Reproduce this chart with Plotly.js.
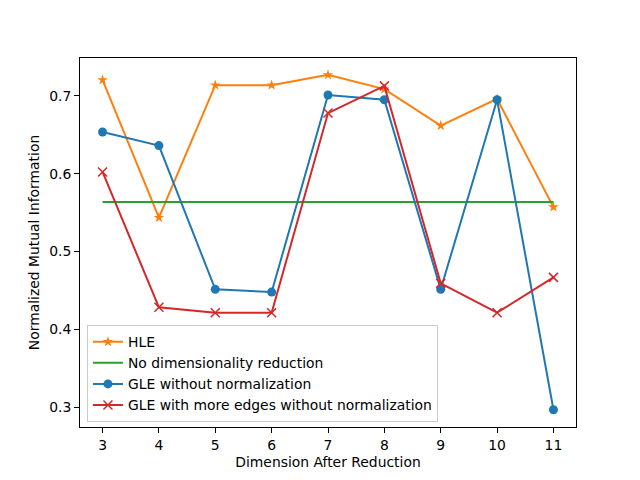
<!DOCTYPE html>
<html>
<head>
<meta charset="utf-8">
<script src="https://cdn.plot.ly/plotly-3.0.1.min.js"></script>
<style>html,body{margin:0;padding:0;background:#fff;}#chart{width:640px;height:480px;}</style>
</head>
<body>
<div id="chart"></div>
<script>
const dims = [3, 4, 5, 6, 7, 8, 9, 10, 11];
const hle = [0.7205, 0.5434, 0.7137, 0.7137, 0.7269, 0.7086, 0.6616, 0.696, 0.557];
const noReduction = [0.5634, 0.5634, 0.5634, 0.5634, 0.5634, 0.5634, 0.5634, 0.5634, 0.5634];
const gle = [0.6535, 0.636, 0.4513, 0.4478, 0.701, 0.6949, 0.4513, 0.695, 0.2966];
const gleMoreEdges = [0.6022, 0.4282, 0.4213, 0.4213, 0.6778, 0.7128, 0.459, 0.4213, 0.4667];
const xTicks = [3, 4, 5, 6, 7, 8, 9, 10, 11];
const yTicks = [0.3, 0.4, 0.5, 0.6, 0.7];

const font = {family: 'DejaVu Sans', size: 13.9, color: '#000'};
const traces = [
  {x: dims, y: hle, name: 'HLE', mode: 'lines+markers',
   line: {color: '#ff7f0e', width: 2}, marker: {symbol: 'star', size: 8, color: '#ff7f0e'}},
  {x: dims, y: noReduction, name: 'No dimensionality reduction', mode: 'lines',
   line: {color: '#2ca02c', width: 2}},
  {x: dims, y: gle, name: 'GLE without normalization', mode: 'lines+markers',
   line: {color: '#1f77b4', width: 2}, marker: {symbol: 'circle', size: 9, color: '#1f77b4'}},
  {x: dims, y: gleMoreEdges, name: 'GLE with more edges without normalization', mode: 'lines+markers',
   line: {color: '#d62728', width: 2}, marker: {symbol: 'x-thin-open', size: 9, color: '#d62728', line: {color: '#d62728', width: 1.5}}}
];
const axisCommon = {
  showgrid: false, zeroline: false, showline: true, mirror: true,
  linecolor: '#000', linewidth: 1, ticks: 'outside', ticklen: 5, tickwidth: 1, tickcolor: '#000',
  tickfont: font
};
const layout = {
  width: 640, height: 480,
  margin: {l: 80, r: 64, t: 58, b: 53, pad: 0},
  paper_bgcolor: '#fff', plot_bgcolor: '#fff',
  font: font,
  showlegend: true,
  xaxis: Object.assign({}, axisCommon, {
    range: [2.6, 11.4], tickvals: xTicks, ticktext: xTicks.map(String),
    title: {text: 'Dimension After Reduction', font: font, standoff: 5}
  }),
  yaxis: Object.assign({}, axisCommon, {
    range: [0.2744, 0.7486], tickvals: yTicks, ticktext: yTicks.map(v => v.toFixed(1)),
    title: {text: 'Normalized Mutual Information', font: font, standoff: 6}
  }),
  legend: {
    x: 0.014, y: 0.013, xanchor: 'left', yanchor: 'bottom',
    bgcolor: 'rgba(255,255,255,0.8)', bordercolor: '#cccccc', borderwidth: 1,
    font: {family: 'DejaVu Sans', size: 13.9, color: '#000'},
    tracegroupgap: 0, itemwidth: 30
  }
};
Plotly.newPlot('chart', traces, layout, {displayModeBar: false, staticPlot: true});
</script>
</body>
</html>
